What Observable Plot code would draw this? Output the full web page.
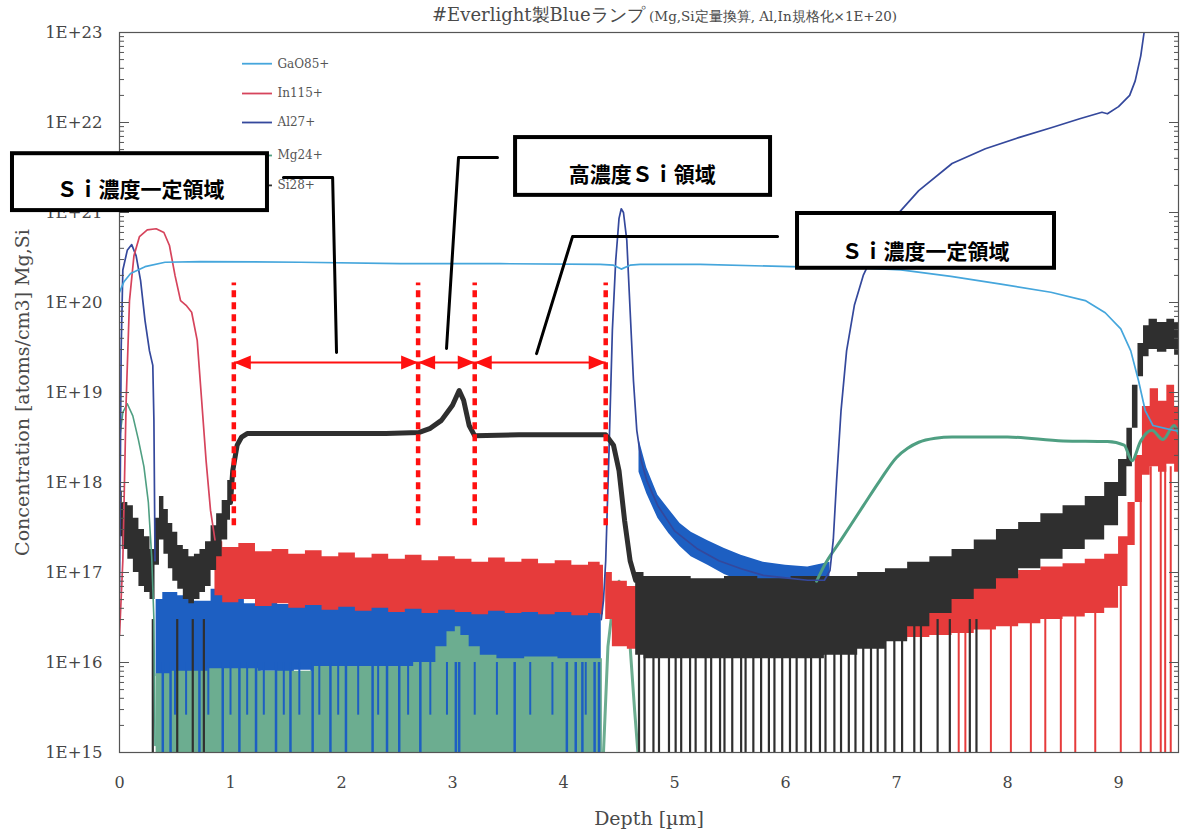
<!DOCTYPE html>
<html><head><meta charset="utf-8">
<script src="https://cdn.jsdelivr.net/npm/d3@7"></script>
<script src="https://cdn.jsdelivr.net/npm/@observablehq/plot@0.6"></script>
<style>
body{margin:0;background:#fff;}
#wrap{position:relative;width:1182px;height:830px;}
#title{position:absolute;left:432px;top:3px;font-family:"DejaVu Serif",serif;color:#4a4a4a;white-space:nowrap;}
#title .main{font-size:18px;}
#title .sub{font-size:13.5px;}
</style></head><body>
<div id="wrap"><div id="title"><span class="main">#Everlight製Blueランプ</span><span class="sub"> (Mg,Si定量換算, Al,In規格化×1E+20)</span></div></div>
<script>
// ---------------- data (depth in µm, concentration in atoms/cm3) ----------------
const depthTicks = [0, 1, 2, 3, 4, 5, 6, 7, 8, 9];
const concTicks = [1e15, 1e16, 1e17, 1e18, 1e19, 1e20, 1e21, 1e22, 1e23];
const seriesNames = ["GaO85+", "In115+", "Al27+", "Mg24+", "Si28+"];

const gaoDepth = [0, 0.04, 0.10, 0.23, 0.41, 0.73, 1.63, 2.53, 3.43, 4.33, 4.45, 4.52, 4.6, 4.69, 5.23, 6.05, 6.59, 7.04, 7.49, 7.94, 8.39, 8.70, 8.88, 9.02, 9.11, 9.18, 9.24, 9.31, 9.42, 9.54];
const gaoConc  = [1.3e20, 1.7e20, 2.1e20, 2.5e20, 2.8e20, 2.85e20, 2.8e20, 2.7e20, 2.7e20, 2.65e20, 2.6e20, 2.35e20, 2.6e20, 2.65e20, 2.65e20, 2.5e20, 2.45e20, 2.3e20, 1.95e20, 1.6e20, 1.3e20, 1.05e20, 7.7e19, 5.1e19, 2.9e19, 1.35e19, 6.3e18, 4.3e18, 4e18, 3.7e18];

const inDepth = [0, 0.03, 0.06, 0.09, 0.13, 0.18, 0.25, 0.33, 0.40, 0.45, 0.50, 0.55, 0.60, 0.65, 0.70, 0.74, 0.78, 0.82, 0.86];
const inConc  = [2e16, 1.35e17, 8e18, 1.05e20, 3.3e20, 5.4e20, 6.4e20, 6.6e20, 6e20, 4.3e20, 2e20, 1.05e20, 9.3e19, 7.8e19, 3.8e19, 8.2e18, 1.75e18, 4.9e17, 2.3e17];
const inNoiseDepthA = [0.86, 1.0, 1.15, 1.3, 1.45, 1.6, 1.75, 1.9, 2.05, 2.2, 2.35, 2.5, 2.65, 2.8, 2.95, 3.1, 3.25, 3.4, 3.55, 3.7, 3.85, 4.0, 4.15, 4.3, 4.36];
const inNoiseHighA  = [2.2e17, 1.9e17, 2.1e17, 1.7e17, 1.8e17, 1.6e17, 1.75e17, 1.5e17, 1.65e17, 1.45e17, 1.6e17, 1.4e17, 1.55e17, 1.35e17, 1.5e17, 1.4e17, 1.3e17, 1.45e17, 1.3e17, 1.4e17, 1.25e17, 1.35e17, 1.2e17, 1.3e17, 1.2e17];
const inNoiseLowA   = [5.5e16, 4.6e16, 5e16, 4.2e16, 4.5e16, 4e16, 4.3e16, 3.8e16, 4.1e16, 3.7e16, 4e16, 3.6e16, 3.9e16, 3.5e16, 3.8e16, 3.6e16, 3.4e16, 3.7e16, 3.5e16, 3.6e16, 3.4e16, 3.6e16, 3.3e16, 3.5e16, 3.4e16];
const inNoiseDepthB = [4.38, 4.5, 4.65, 4.8, 5.0, 5.3, 5.6, 5.9, 6.2, 6.5, 6.8, 7.0, 7.2, 7.4, 7.6, 7.8, 8.0, 8.2, 8.4, 8.6, 8.8, 8.95, 9.05, 9.12, 9.18, 9.25, 9.32, 9.4, 9.47, 9.54];
const inNoiseHighB  = [1e17, 8e16, 7e16, 6e16, 5.5e16, 5e16, 5e16, 5e16, 5e16, 5e16, 5.5e16, 6e16, 6.5e16, 7e16, 7.5e16, 8.5e16, 9.5e16, 1.05e17, 1.15e17, 1.25e17, 1.4e17, 1.6e17, 2.5e17, 6e17, 2e18, 7e18, 1.1e19, 8e18, 1.2e19, 7e18];
const inNoiseLowB   = [3e16, 1.5e16, 1.4e16, 1.4e16, 1.4e16, 1.4e16, 1.4e16, 1.4e16, 1.4e16, 1.5e16, 1.6e16, 1.8e16, 1.9e16, 2e16, 2.1e16, 2.3e16, 2.5e16, 2.7e16, 3e16, 3.2e16, 3.5e16, 4e16, 7e16, 2e17, 6e17, 1.2e18, 1.5e18, 1.3e18, 1.6e18, 1.3e18];
const inSpikeDepth = [7.56, 7.62, 7.85, 8.03, 8.21, 8.34, 8.48, 8.61, 8.79, 9.02, 9.2, 9.29, 9.38, 9.42, 9.47];
const inSpikeTop   = [3e16, 3e16, 3e16, 3e16, 3.5e16, 3.5e16, 3.5e16, 4e16, 4e16, 7e16, 1.5e18, 1.5e18, 1.5e18, 1.5e18, 1.5e18];

const alDepthA = [0, 0.015, 0.03, 0.07, 0.11, 0.15, 0.19, 0.23, 0.27, 0.30, 0.31, 0.32];
const alConcA  = [6e16, 3e19, 2.3e20, 3.8e20, 4.4e20, 3.3e20, 1.75e20, 6.3e19, 2.9e19, 2e19, 4.9e18, 1.35e17];
const alDepthB = [4.34, 4.36, 4.38, 4.41, 4.44, 4.47, 4.50, 4.52, 4.54, 4.57, 4.60, 4.63, 4.66, 4.70, 4.75, 4.85, 5.0, 5.2, 5.4, 5.6, 5.8, 6.0, 6.2, 6.35, 6.4, 6.43, 6.46, 6.5, 6.55, 6.62, 6.7, 6.85, 7.0, 7.2, 7.5, 7.8, 8.1, 8.4, 8.65, 8.85, 8.9, 9.0, 9.1, 9.15, 9.2, 9.23];
const alConcB  = [3e16, 4.9e16, 1.35e17, 2.3e18, 4.9e19, 2.9e20, 8.6e20, 1.1e21, 1e21, 4.9e20, 8.1e19, 1.35e19, 3.8e18, 1.75e18, 1.05e18, 5.5e17, 2.9e17, 1.85e17, 1.35e17, 1.1e17, 9.3e16, 8.7e16, 8.2e16, 8.2e16, 1.05e17, 2.3e17, 1.05e18, 6.3e18, 2.9e19, 9.3e19, 2e20, 4.9e20, 9.3e20, 1.75e21, 3.5e21, 5.1e21, 6.8e21, 8.8e21, 1.1e22, 1.3e22, 1.25e22, 1.5e22, 2e22, 2.9e22, 5.5e22, 1e23];
const alNoiseDepth = [0.33, 0.45, 0.6, 0.75, 0.9, 1.05, 1.2, 1.35, 1.5, 1.65, 1.8, 1.95, 2.1, 2.25, 2.4, 2.55, 2.7, 2.85, 3.0, 3.15, 3.3, 3.45, 3.6, 3.75, 3.9, 4.05, 4.2, 4.34];
const alNoiseHigh  = [5e16, 6e16, 5.5e16, 4.8e16, 6.5e16, 5e16, 4.5e16, 5.2e16, 4.4e16, 5e16, 4.6e16, 4.3e16, 4.9e16, 4.2e16, 4.6e16, 4.4e16, 4.1e16, 4.5e16, 4e16, 4.3e16, 3.9e16, 4.4e16, 4e16, 4.2e16, 3.8e16, 4.1e16, 3.9e16, 4e16];
const alNoiseLow   = [7e15, 6.5e15, 7.5e15, 7e15, 6.8e15, 7.5e15, 7e15, 8e15, 7.2e15, 8.2e15, 7.5e15, 8.2e15, 7.6e15, 8.5e15, 8e15, 8.8e15, 8.2e15, 9e15, 8.5e15, 9.5e15, 9e15, 9.5e15, 9e15, 9.8e15, 9.2e15, 9.5e15, 9.2e15, 9.5e15];
const alTailDepth = [4.68, 4.75, 4.85, 4.95, 5.05, 5.15, 5.3, 5.45, 5.6, 5.8, 6.0, 6.2, 6.4];
const alTailHigh  = [3e18, 1.45e18, 7.2e17, 5e17, 3.5e17, 2.8e17, 2.25e17, 1.85e17, 1.55e17, 1.3e17, 1.2e17, 1.15e17, 1.3e17];
const alTailLow   = [1.3e18, 7.5e17, 4e17, 2.7e17, 1.95e17, 1.5e17, 1.2e17, 9.5e16, 8e16, 6.8e16, 6.3e16, 6e16, 7.5e16];
const alSpikeDepth = [0.39, 0.46, 0.72, 0.93, 1.08, 1.23, 1.41, 1.54, 1.74, 1.90, 2.04, 2.28, 2.41, 2.52, 2.71, 3.03, 3.06, 3.56, 4.03, 4.11, 4.17, 4.28, 4.32];
const alShortSpikeDepth = [0.5, 0.6, 0.8, 1.0, 1.15, 1.3, 1.48, 1.62, 1.8, 1.97, 2.15, 2.33, 2.6, 2.8, 2.95, 3.2, 3.4, 3.7, 3.9, 4.2];

const mgDepthA = [0, 0.03, 0.07, 0.12, 0.17, 0.22, 0.26, 0.29, 0.31, 0.32];
const mgConcA  = [3e18, 6e18, 7.5e18, 5.5e18, 3e18, 1.5e18, 6e17, 1.5e17, 3e16, 1.2e15];
const mgNoiseDepth = [0.33, 0.6, 1.0, 1.5, 2.0, 2.5, 2.8, 2.9, 3.0, 3.05, 3.1, 3.2, 3.3, 3.5, 3.8, 4.1, 4.35];
const mgNoiseHigh  = [7.5e15, 8e15, 8.5e15, 8e15, 9e15, 9e15, 1e16, 1.5e16, 2.2e16, 2.5e16, 2e16, 1.5e16, 1.2e16, 1.1e16, 1.15e16, 1.1e16, 1.1e16];
const mgDepthB = [4.36, 4.4, 4.45, 4.5, 4.55, 4.6, 4.64, 4.67];
const mgConcB  = [1e15, 1.5e16, 5e16, 8e16, 5e16, 1.5e16, 3e15, 1e15];
const mgDepthC = [6.28, 6.35, 6.5, 6.7, 6.85, 7.0, 7.1, 7.2, 7.35, 7.5, 8.0, 8.5, 8.9, 9.05, 9.12, 9.2, 9.3, 9.4, 9.5, 9.54];
const mgConcC  = [8e16, 1.2e17, 2.3e17, 5.5e17, 1.05e18, 1.9e18, 2.4e18, 2.8e18, 3.1e18, 3.2e18, 3.2e18, 2.9e18, 2.85e18, 2.6e18, 1.75e18, 2.9e18, 3.8e18, 3e18, 4.3e18, 3.5e18];

const siNoiseDepthA = [0, 0.05, 0.1, 0.15, 0.2, 0.25, 0.3, 0.34, 0.38, 0.42, 0.46, 0.5, 0.55, 0.6, 0.65, 0.7, 0.75, 0.8, 0.85, 0.9, 0.95, 1.0];
const siNoiseHighA  = [8e17, 6e17, 5.5e17, 4e17, 3e17, 2.5e17, 1.8e17, 4e17, 7e17, 5e17, 3.5e17, 2.8e17, 2e17, 1.8e17, 1.5e17, 1.6e17, 1.8e17, 2.2e17, 3.3e17, 4.5e17, 6.3e17, 1.05e18];
const siNoiseLowA   = [2.5e17, 1.8e17, 1.4e17, 1e17, 7e16, 6e16, 5e16, 1.2e17, 2.3e17, 1.6e17, 1.1e17, 8e16, 6.5e16, 5e16, 4.5e16, 5e16, 6e16, 7e16, 1.05e17, 1.5e17, 2.3e17, 3.8e17];
const siDepth = [1.0, 1.02, 1.06, 1.1, 1.15, 1.5, 2.0, 2.4, 2.7, 2.8, 2.9, 3.0, 3.06, 3.1, 3.15, 3.2, 3.6, 4.0, 4.38, 4.45, 4.5, 4.55, 4.6, 4.65];
const siConc  = [6e17, 1.35e18, 2.6e18, 3.2e18, 3.5e18, 3.5e18, 3.5e18, 3.5e18, 3.6e18, 4e18, 4.9e18, 7.2e18, 1.05e19, 8.2e18, 4.3e18, 3.3e18, 3.4e18, 3.4e18, 3.4e18, 2.6e18, 1.35e18, 3.8e17, 1.35e17, 8.2e16];
const siNoiseDepthB = [4.65, 4.8, 5.0, 5.3, 5.6, 5.9, 6.2, 6.5, 6.8, 7.0, 7.2, 7.4, 7.6, 7.8, 8.0, 8.2, 8.4, 8.6, 8.8, 8.95, 9.05, 9.1, 9.15, 9.2, 9.25, 9.3, 9.4, 9.47, 9.54];
const siNoiseHighB  = [1e17, 9e16, 9e16, 8.5e16, 9e16, 8.5e16, 9e16, 9e16, 1e17, 1.1e17, 1.3e17, 1.5e17, 1.8e17, 2.3e17, 3e17, 3.6e17, 4.5e17, 5.5e17, 7e17, 1e18, 1.8e18, 4e18, 1.2e19, 3.5e19, 5.5e19, 6.5e19, 6e19, 6.5e19, 6e19];
const siNoiseLowB   = [1.2e16, 1.1e16, 1.1e16, 1.1e16, 1.1e16, 1.1e16, 1.1e16, 1.2e16, 1.4e16, 1.7e16, 2.5e16, 3.5e16, 5e16, 6.5e16, 8.5e16, 1.1e17, 1.4e17, 1.8e17, 2.3e17, 3.3e17, 7e17, 1.5e18, 4e18, 1.5e19, 2.5e19, 3e19, 2.8e19, 3e19, 2.6e19];
const siSpikeDepth = [0.3, 0.52, 0.66, 0.76, 4.68, 4.73, 4.81, 4.86, 4.95, 5.01, 5.06, 5.14, 5.19, 5.28, 5.33, 5.41, 5.45, 5.52, 5.6, 5.64, 5.71, 5.78, 5.85, 5.9, 5.97, 6.04, 6.1, 6.18, 6.23, 6.31, 6.36, 6.44, 6.5, 6.57, 6.63, 6.7, 6.77, 6.83, 6.9, 6.98, 7.05, 7.16, 7.22, 7.37, 7.48, 7.66, 7.72];

// annotation content
const regionBounds = [1.03, 2.69, 3.2, 4.38];
const regionSpans = [[1.03, 2.69], [2.69, 3.2], [3.2, 4.38]];
const boxLabels = ["Ｓｉ濃度一定領域", "高濃度Ｓｉ領域", "Ｓｉ濃度一定領域"];
const boxDepthLeft  = [-0.964, 3.568, 6.108];
const boxDepthRight = [1.333, 5.865, 8.423];
const boxConcTop    = [4.5e21, 6.8e21, 9.75e20];
const boxConcBottom = [1.05e21, 1.55e21, 2.4e20];
const boxLabelDepth = [0.19, 4.71, 7.26];
const boxLabelConc  = [1.75e21, 2.58e21, 3.6e20];
const leaderDepth = [[1.477, 1.92, 1.955], [3.405, 3.054, 2.946], [5.928, 4.081, 3.757]];
const leaderConc  = [[2.45e21, 2.45e21, 2.78e19], [4.08e21, 4.08e21, 3.08e19], [5.4e20, 5.4e20, 2.7e19]];

// ---------------- styling / layout ----------------
const C = {gao: "#45a6dc", inLine: "#d6445c", inFill: "#e63b3b", alLine: "#34489c", alFill: "#1d5fc2",
           mgLine: "#4f9f82", mgFill: "#6cad90", si: "#2f2f2f", red: "#ff1010"};
const legendColors = [C.gao, C.inLine, C.alLine, C.mgLine, C.si];
const legendConc = [4.5e22, 2.1e22, 1e22, 4.3e21, 2e21];
const regionTop = 1.65e20, regionBottom = 3.3e17, arrowConc = 2.15e19;

const pts = (xs, ys) => xs.map((x, i) => ({x, y: ys[i]}));
const band = (xs, lo, hi) => xs.map((x, i) => ({x, lo: lo[i], hi: hi[i]}));
const minorTicks = [];
for (const p of concTicks.slice(0, -1)) for (let m = 2; m <= 9; m++) minorTicks.push(m * p);

const headShape = {draw(ctx, l, r) { ctx.moveTo(0, -l); ctx.lineTo(-r, 0); ctx.lineTo(r, 0); ctx.closePath(); }};
const heads = [];
for (const [a, b] of regionSpans) { heads.push({x: a, rot: -90}); heads.push({x: b, rot: 90}); }

const clip = true;
const marks = [
  // ---- noise bands & spikes (bottom layers) ----
  Plot.areaY(band(alNoiseDepth, alNoiseLow, alNoiseHigh), {x: "x", y1: "lo", y2: "hi", fill: C.alFill, curve: "step", clip}),
  Plot.areaY(band(mgNoiseDepth, mgNoiseDepth.map(() => 1e15), mgNoiseHigh), {x: "x", y1: "lo", y2: "hi", fill: C.mgFill, curve: "step", clip}),
  Plot.ruleX(alSpikeDepth, {y1: 1e15, y2: 1e16, stroke: C.alFill, strokeWidth: 2.5, clip}),
  Plot.ruleX(alShortSpikeDepth, {y1: 2.6e15, y2: 1e16, stroke: C.alFill, strokeWidth: 2, clip}),
  Plot.areaY(band(inNoiseDepthA, inNoiseLowA, inNoiseHighA), {x: "x", y1: "lo", y2: "hi", fill: C.inFill, curve: "step", clip}),
  Plot.areaY(band(alTailDepth, alTailLow, alTailHigh), {x: "x", y1: "lo", y2: "hi", fill: C.alFill, curve: "linear", clip}),
  Plot.line(pts(mgDepthB, mgConcB), {x: "x", y: "y", stroke: C.mgFill, strokeWidth: 3, clip}),
  Plot.ruleX(pts(inSpikeDepth, inSpikeTop), {x: "x", y1: 1e15, y2: "y", stroke: C.inFill, strokeWidth: 2, clip}),
  Plot.areaY(band(inNoiseDepthB, inNoiseLowB, inNoiseHighB), {x: "x", y1: "lo", y2: "hi", fill: C.inFill, curve: "step", clip}),
  Plot.ruleX(siSpikeDepth, {y1: 1e15, y2: 3e16, stroke: C.si, strokeWidth: 2.2, clip}),
  Plot.areaY(band(siNoiseDepthB, siNoiseLowB, siNoiseHighB), {x: "x", y1: "lo", y2: "hi", fill: C.si, curve: "step", clip}),
  Plot.areaY(band(siNoiseDepthA, siNoiseLowA, siNoiseHighA), {x: "x", y1: "lo", y2: "hi", fill: C.si, curve: "step", clip}),
  // ---- profile lines ----
  Plot.line(pts(mgDepthA, mgConcA), {x: "x", y: "y", stroke: C.mgLine, strokeWidth: 1.6, clip}),
  Plot.line(pts(mgDepthC, mgConcC), {x: "x", y: "y", stroke: C.mgLine, strokeWidth: 3, curve: "monotone-x", clip}),
  Plot.line(pts(alDepthA, alConcA), {x: "x", y: "y", stroke: C.alLine, strokeWidth: 1.7, clip}),
  Plot.line(pts(alDepthB, alConcB), {x: "x", y: "y", stroke: C.alLine, strokeWidth: 1.7, clip}),
  Plot.line(pts(inDepth, inConc), {x: "x", y: "y", stroke: C.inLine, strokeWidth: 1.7, clip}),
  Plot.line(pts(siDepth, siConc), {x: "x", y: "y", stroke: C.si, strokeWidth: 5, clip}),
  Plot.line(pts(gaoDepth, gaoConc), {x: "x", y: "y", stroke: C.gao, strokeWidth: 1.7, clip}),
  // ---- frame & axes ----
  Plot.frame({stroke: "#555", strokeWidth: 1.2}),
  Plot.axisY({anchor: "left", ticks: concTicks, tickSize: 0, tickPadding: 17, tickFormat: d => "1E+" + Math.round(Math.log10(d)), fontSize: 16.5}),
  Plot.axisY({anchor: "left", ticks: concTicks, tickSize: -10, tickFormat: () => "", stroke: "#555"}),
  Plot.axisY({anchor: "left", ticks: minorTicks, tickSize: -5, tickFormat: () => "", stroke: "#555"}),
  Plot.axisY({anchor: "right", ticks: concTicks, tickSize: -10, tickFormat: () => "", stroke: "#555"}),
  Plot.axisY({anchor: "right", ticks: minorTicks, tickSize: -5, tickFormat: () => "", stroke: "#555"}),
  Plot.axisX({anchor: "bottom", ticks: depthTicks, tickSize: 0, tickPadding: 24, tickFormat: d => String(d), fontSize: 16, label: null}),
  Plot.text(["Depth [µm]"], {text: d => d, frameAnchor: "bottom", dy: 66, lineAnchor: "middle", fontSize: 19, fill: "#4a4a4a"}),
  Plot.text(["Concentration [atoms/cm3] Mg,Si"], {text: d => d, frameAnchor: "left", textAnchor: "middle", lineAnchor: "middle", dx: -97, dy: 0, rotate: -90, fontSize: 19, fill: "#4a4a4a"}),
  // ---- legend ----
  ...seriesNames.map((n, i) => Plot.ruleY([legendConc[i]], {x1: 1.108, x2: 1.378, stroke: legendColors[i], strokeWidth: 1.8})),
  Plot.text(seriesNames.map((n, i) => ({n, y: legendConc[i]})), {x: 1.423, y: "y", text: "n", textAnchor: "start", fontSize: 12, fill: "#555"}),
  // ---- annotations ----
  Plot.ruleX(regionBounds, {y1: regionBottom, y2: regionTop, stroke: C.red, strokeWidth: 4.5, strokeDasharray: "7,5"}),
  Plot.link(regionSpans, {x1: d => d[0], x2: d => d[1], y1: arrowConc, y2: arrowConc, stroke: C.red, strokeWidth: 2}),
  Plot.vector(heads, {x: "x", y: arrowConc, rotate: "rot", length: 17, r: 7, anchor: "end", shape: headShape, fill: C.red, stroke: "none"}),
  ...leaderDepth.map((xs, i) => Plot.line(pts(xs, leaderConc[i]), {x: "x", y: "y", stroke: "black", strokeWidth: 3})),
  Plot.rect(boxLabels.map((t, i) => ({x1: boxDepthLeft[i], x2: boxDepthRight[i], y1: boxConcBottom[i], y2: boxConcTop[i]})),
    {x1: "x1", x2: "x2", y1: "y1", y2: "y2", fill: "white", stroke: "black", strokeWidth: 4}),
  Plot.text(boxLabels.map((t, i) => ({t, x: boxLabelDepth[i], y: boxLabelConc[i]})),
    {x: "x", y: "y", text: "t", fontFamily: "Noto Sans CJK JP", fontWeight: "bold", fontSize: 21, fill: "black"})
];

const chart = Plot.plot({
  width: 1182, height: 830,
  marginLeft: 119, marginRight: 4, marginTop: 32, marginBottom: 78,
  style: {fontFamily: "'DejaVu Serif', serif", fontSize: "16px", color: "#454545", background: "white"},
  x: {domain: [0, 9.54], axis: null},
  y: {type: "log", domain: [1e15, 1e23], axis: null},
  marks
});
const wrap = document.getElementById("wrap");
wrap.insertBefore(chart, wrap.firstChild);
chart.style.position = "absolute";
chart.style.left = "0";
chart.style.top = "0";
document.getElementById("title").style.zIndex = 2;
</script>
</body></html>
